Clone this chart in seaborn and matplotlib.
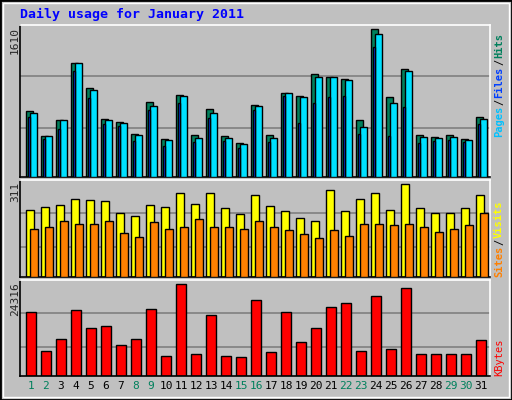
import matplotlib
matplotlib.use("Agg")
import matplotlib.pyplot as plt
import seaborn as sns
import numpy as np
from matplotlib.patches import Rectangle

sns.set_style("white")
plt.rcParams['font.family'] = ['DejaVu Sans Mono', 'DejaVu Sans']

days = list(range(1, 32))
hits = [722, 449, 623, 1246, 973, 634, 601, 470, 820, 419, 889, 459, 736, 449, 375, 780, 459, 921, 878, 1126, 1093, 1071, 616, 1610, 867, 1173, 459, 437, 459, 419, 649]
files = [700, 449, 623, 1246, 951, 623, 590, 459, 776, 398, 878, 430, 700, 430, 364, 769, 430, 911, 867, 1086, 1086, 1060, 550, 1555, 802, 1151, 440, 430, 440, 408, 627]
pages = [659, 419, 525, 1151, 863, 583, 561, 397, 725, 343, 812, 386, 645, 397, 320, 725, 386, 878, 594, 812, 867, 878, 474, 1413, 445, 758, 375, 397, 408, 386, 583]
visits = [223, 233, 240, 260, 257, 254, 216, 206, 240, 233, 283, 246, 283, 230, 210, 276, 237, 220, 199, 189, 290, 220, 260, 280, 226, 311, 230, 213, 216, 230, 276]
sites = [162, 166, 186, 176, 176, 186, 149, 135, 183, 162, 166, 193, 169, 166, 162, 186, 169, 159, 145, 132, 159, 139, 176, 176, 173, 179, 169, 152, 162, 173, 213]
kbytes = [16834, 6681, 9888, 17368, 12823, 13090, 8281, 9888, 17635, 5345, 24316, 5879, 16032, 5345, 5077, 20044, 6414, 16834, 9086, 12823, 18170, 19239, 6681, 21113, 7216, 23248, 5879, 5879, 5879, 5879, 9620]
weekend = [1, 2, 8, 9, 15, 16, 22, 23, 29, 30]

BG = '#C0C0C0'
fig = plt.figure(figsize=(5.12, 4.0), dpi=100, facecolor=BG)
fig.patches.append(Rectangle((0, 0), 1, 1, transform=fig.transFigure, fill=False, ec='black', lw=2))
fig.patches.append(Rectangle((0.006, 0.008), 0.988, 0.984, transform=fig.transFigure, fill=False, ec='white', lw=1))

x = np.array(days, dtype=float)
xl = (0.267, 31.6)
ek = dict(edgecolor='black', linewidth=1)

def panel(rect, ylim, grids):
    ax = fig.add_axes(rect)
    ax.set_facecolor(BG)
    ax.set_xlim(*xl)
    ax.set_ylim(0, ylim)
    for g in grids:
        ax.axhline(g, color='#808080', lw=1.2, zorder=0)
    ax.set_xticks([]); ax.set_yticks([])
    for s in ['left', 'bottom']:
        ax.spines[s].set_color('black')
    for s in ['right', 'top']:
        ax.spines[s].set_color('white')
    for s in ax.spines.values():
        s.set_linewidth(1.2)
    return ax

renderer = fig.canvas.get_renderer()

def stack(bottom_px, parts):
    # parts listed bottom-to-top
    y = bottom_px
    for txt, col, bold in parts:
        t = fig.text(499 / 512, 1 - y / 400, txt, color=col, rotation=90, fontsize=7.5,
                     fontweight='bold' if bold else 'normal', ha='center', va='bottom')
        h = t.get_window_extent(renderer).height
        y -= h + 1

fig.text(20 / 512, 1 - 14 / 400, 'Daily usage for January 2011', color='#0000FF', fontsize=9.5, fontweight='bold', va='center')

ax1 = panel([0.039, 0.5575, 0.918, 0.38], 1657, [539, 1097])
ax1.bar(x - 0.09, hits, width=0.48, align='center', color='#00805C', zorder=2, **ek)
ax1.bar(x + 0.17, files, width=0.5, align='center', color='#00E0FF', zorder=3, **ek)
ax1.bar(x - 0.135, pages, width=0.17, align='center', color='#0040FF', zorder=4, **ek)
fig.text(15 / 512, 1 - 27 / 400, '1610', rotation=90, ha='center', va='top', fontsize=8)
stack(137, [('Pages', '#00C0FF', True), ('/', 'black', False), ('Files', '#0040FF', True),
            ('/', 'black', False), ('Hits', '#00805C', True)])

ax2 = panel([0.039, 0.3075, 0.918, 0.2425], 325, [101, 213])
ax2.bar(x - 0.06, visits, width=0.55, align='center', color='#FFFF00', zorder=2, **ek)
ax2.bar(x + 0.2, sites, width=0.5, align='center', color='#FF8000', zorder=3, **ek)
fig.text(15 / 512, 1 - 182 / 400, '311', rotation=90, ha='center', va='top', fontsize=8)
stack(277, [('Sites', '#FF8000', True), ('/', 'black', False), ('Visits', '#FFFF00', True)])

ax3 = panel([0.039, 0.06, 0.918, 0.24], 25385, [7749, 16567])
ax3.bar(x, kbytes, width=0.68, align='center', color='#FF0000', zorder=2, **ek)
fig.text(15 / 512, 1 - 282 / 400, '24316', rotation=90, ha='center', va='top', fontsize=8)
stack(376, [('KBytes', '#FF0000', False)])

for d in days:
    ax3.text(d, -0.1, str(d), transform=ax3.get_xaxis_transform(), ha='center', va='center',
             fontsize=8, color='#00805C' if d in weekend else 'black')

fig.savefig('out.png', dpi=100, facecolor=BG)
